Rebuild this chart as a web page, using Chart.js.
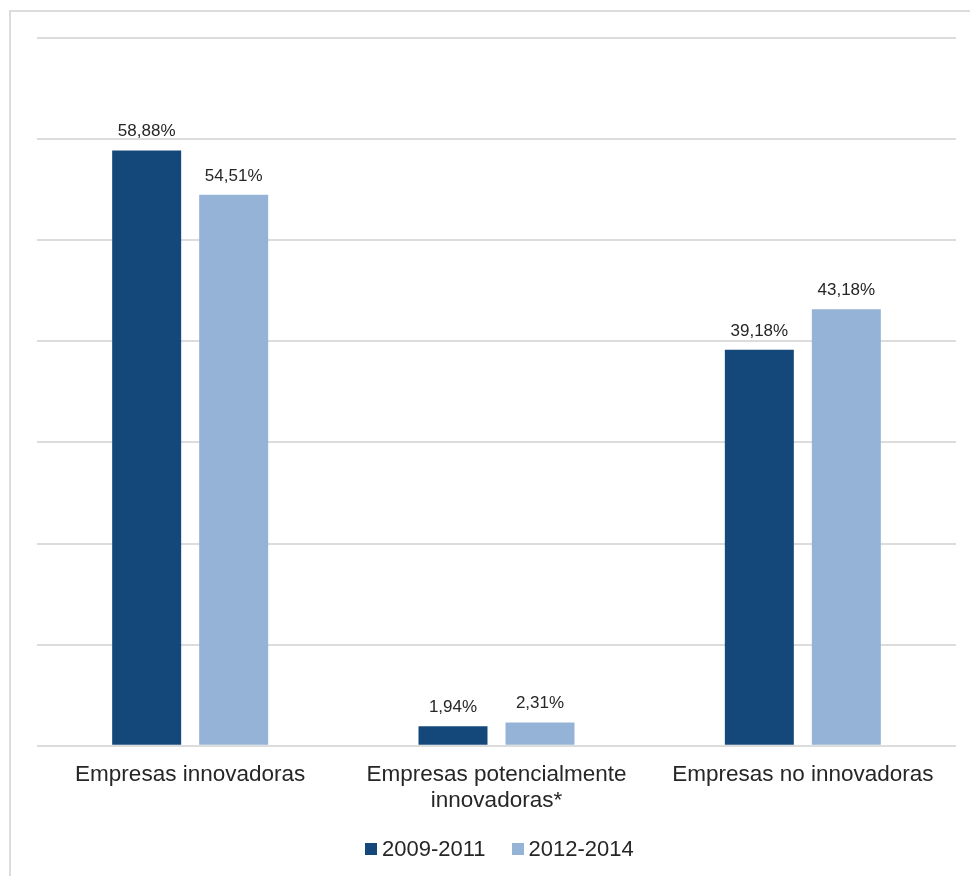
<!DOCTYPE html>
<html>
<head>
<meta charset="utf-8">
<script src="https://cdn.jsdelivr.net/npm/chart.js@4/dist/chart.umd.min.js"></script>
<style>
  body { margin: 0; background: #fff; }
  #frame { position: absolute; left: 9px; top: 10px; width: 961px; height: 866px;
           border-top: 2px solid #dcdcdc; border-left: 2px solid #dcdcdc; }
  #wrap { position: absolute; left: 0; top: 0; width: 970px; height: 876px; }
  #leyenda { position: absolute; left: 365px; top: 835px; height: 28px; display: flex;
             align-items: center; font: 22px 'Liberation Sans', Arial, sans-serif; color: #262626; }
  #leyenda .item { display: flex; align-items: center; margin-right: 26px; }
  #leyenda .caja { width: 12px; height: 12px; margin-right: 5px; }
</style>
</head>
<body>
<div id="frame"></div>
<div id="wrap"><canvas id="chart"></canvas></div>
<div id="leyenda"></div>
<script>
// categorias del eje X
var categorias = [
    ["Empresas innovadoras"],
    ["Empresas potencialmente", "innovadoras*"],
    ["Empresas no innovadoras"]
];
// periodos (series)
var periodos = ["2009-2011", "2012-2014"];
var valores2009 = [58.88, 1.94, 39.18];
var valores2012 = [54.51, 2.31, 43.18];
var colores = ["#15487a", "#95b3d7"];

var fuente = "'Liberation Sans', Arial, sans-serif";

// etiquetas de datos encima de cada barra
var etiquetasPlugin = {
    id: 'etiquetas',
    afterDatasetsDraw: function(chart) {
        var ctx = chart.ctx;
        ctx.save();
        ctx.font = "17px " + fuente;
        ctx.fillStyle = "#262626";
        ctx.textAlign = "center";
        ctx.textBaseline = "alphabetic";
        chart.data.datasets.forEach(function(ds, i) {
            chart.getDatasetMeta(i).data.forEach(function(bar, j) {
                var txt = ds.data[j].toFixed(2).replace('.', ',') + '%';
                ctx.fillText(txt, bar.x, bar.y - 14);
            });
        });
        ctx.restore();
    }
};

var ctx = document.getElementById('chart').getContext('2d');
var grafico = new Chart(ctx, {
    type: 'bar',
    data: {
        labels: categorias,
        datasets: [{
            label: periodos[0],
            data: valores2009,
            backgroundColor: colores[0],
            categoryPercentage: 0.568,
            barPercentage: 0.793
        }, {
            label: periodos[1],
            data: valores2012,
            backgroundColor: colores[1],
            categoryPercentage: 0.568,
            barPercentage: 0.793
        }]
    },
    options: {
        responsive: true,
        maintainAspectRatio: false,
        animation: false,
        layout: {
            padding: { left: 37, right: 14, top: 38, bottom: 46 }
        },
        plugins: {
            tooltip: { enabled: false },
            legend: { display: false }
        },
        scales: {
            x: {
                grid: { display: false, drawTicks: false },
                border: { display: false },
                ticks: {
                    font: { family: fuente, size: 22.5, lineHeight: 1.16 },
                    color: '#262626',
                    padding: 16,
                    maxRotation: 0
                }
            },
            y: {
                min: 0,
                max: 70,
                ticks: { display: false, stepSize: 10 },
                grid: { color: '#dcdcdc', lineWidth: 2, drawTicks: false },
                border: { display: false }
            }
        }
    },
    plugins: [etiquetasPlugin]
});

// leyenda en HTML
var leyenda = document.getElementById('leyenda');
periodos.forEach(function(p, i) {
    var item = document.createElement('div');
    item.className = 'item';
    item.innerHTML = '<span class="caja" style="background:' + colores[i] + '"></span>' + p;
    leyenda.appendChild(item);
});
</script>
</body>
</html>
